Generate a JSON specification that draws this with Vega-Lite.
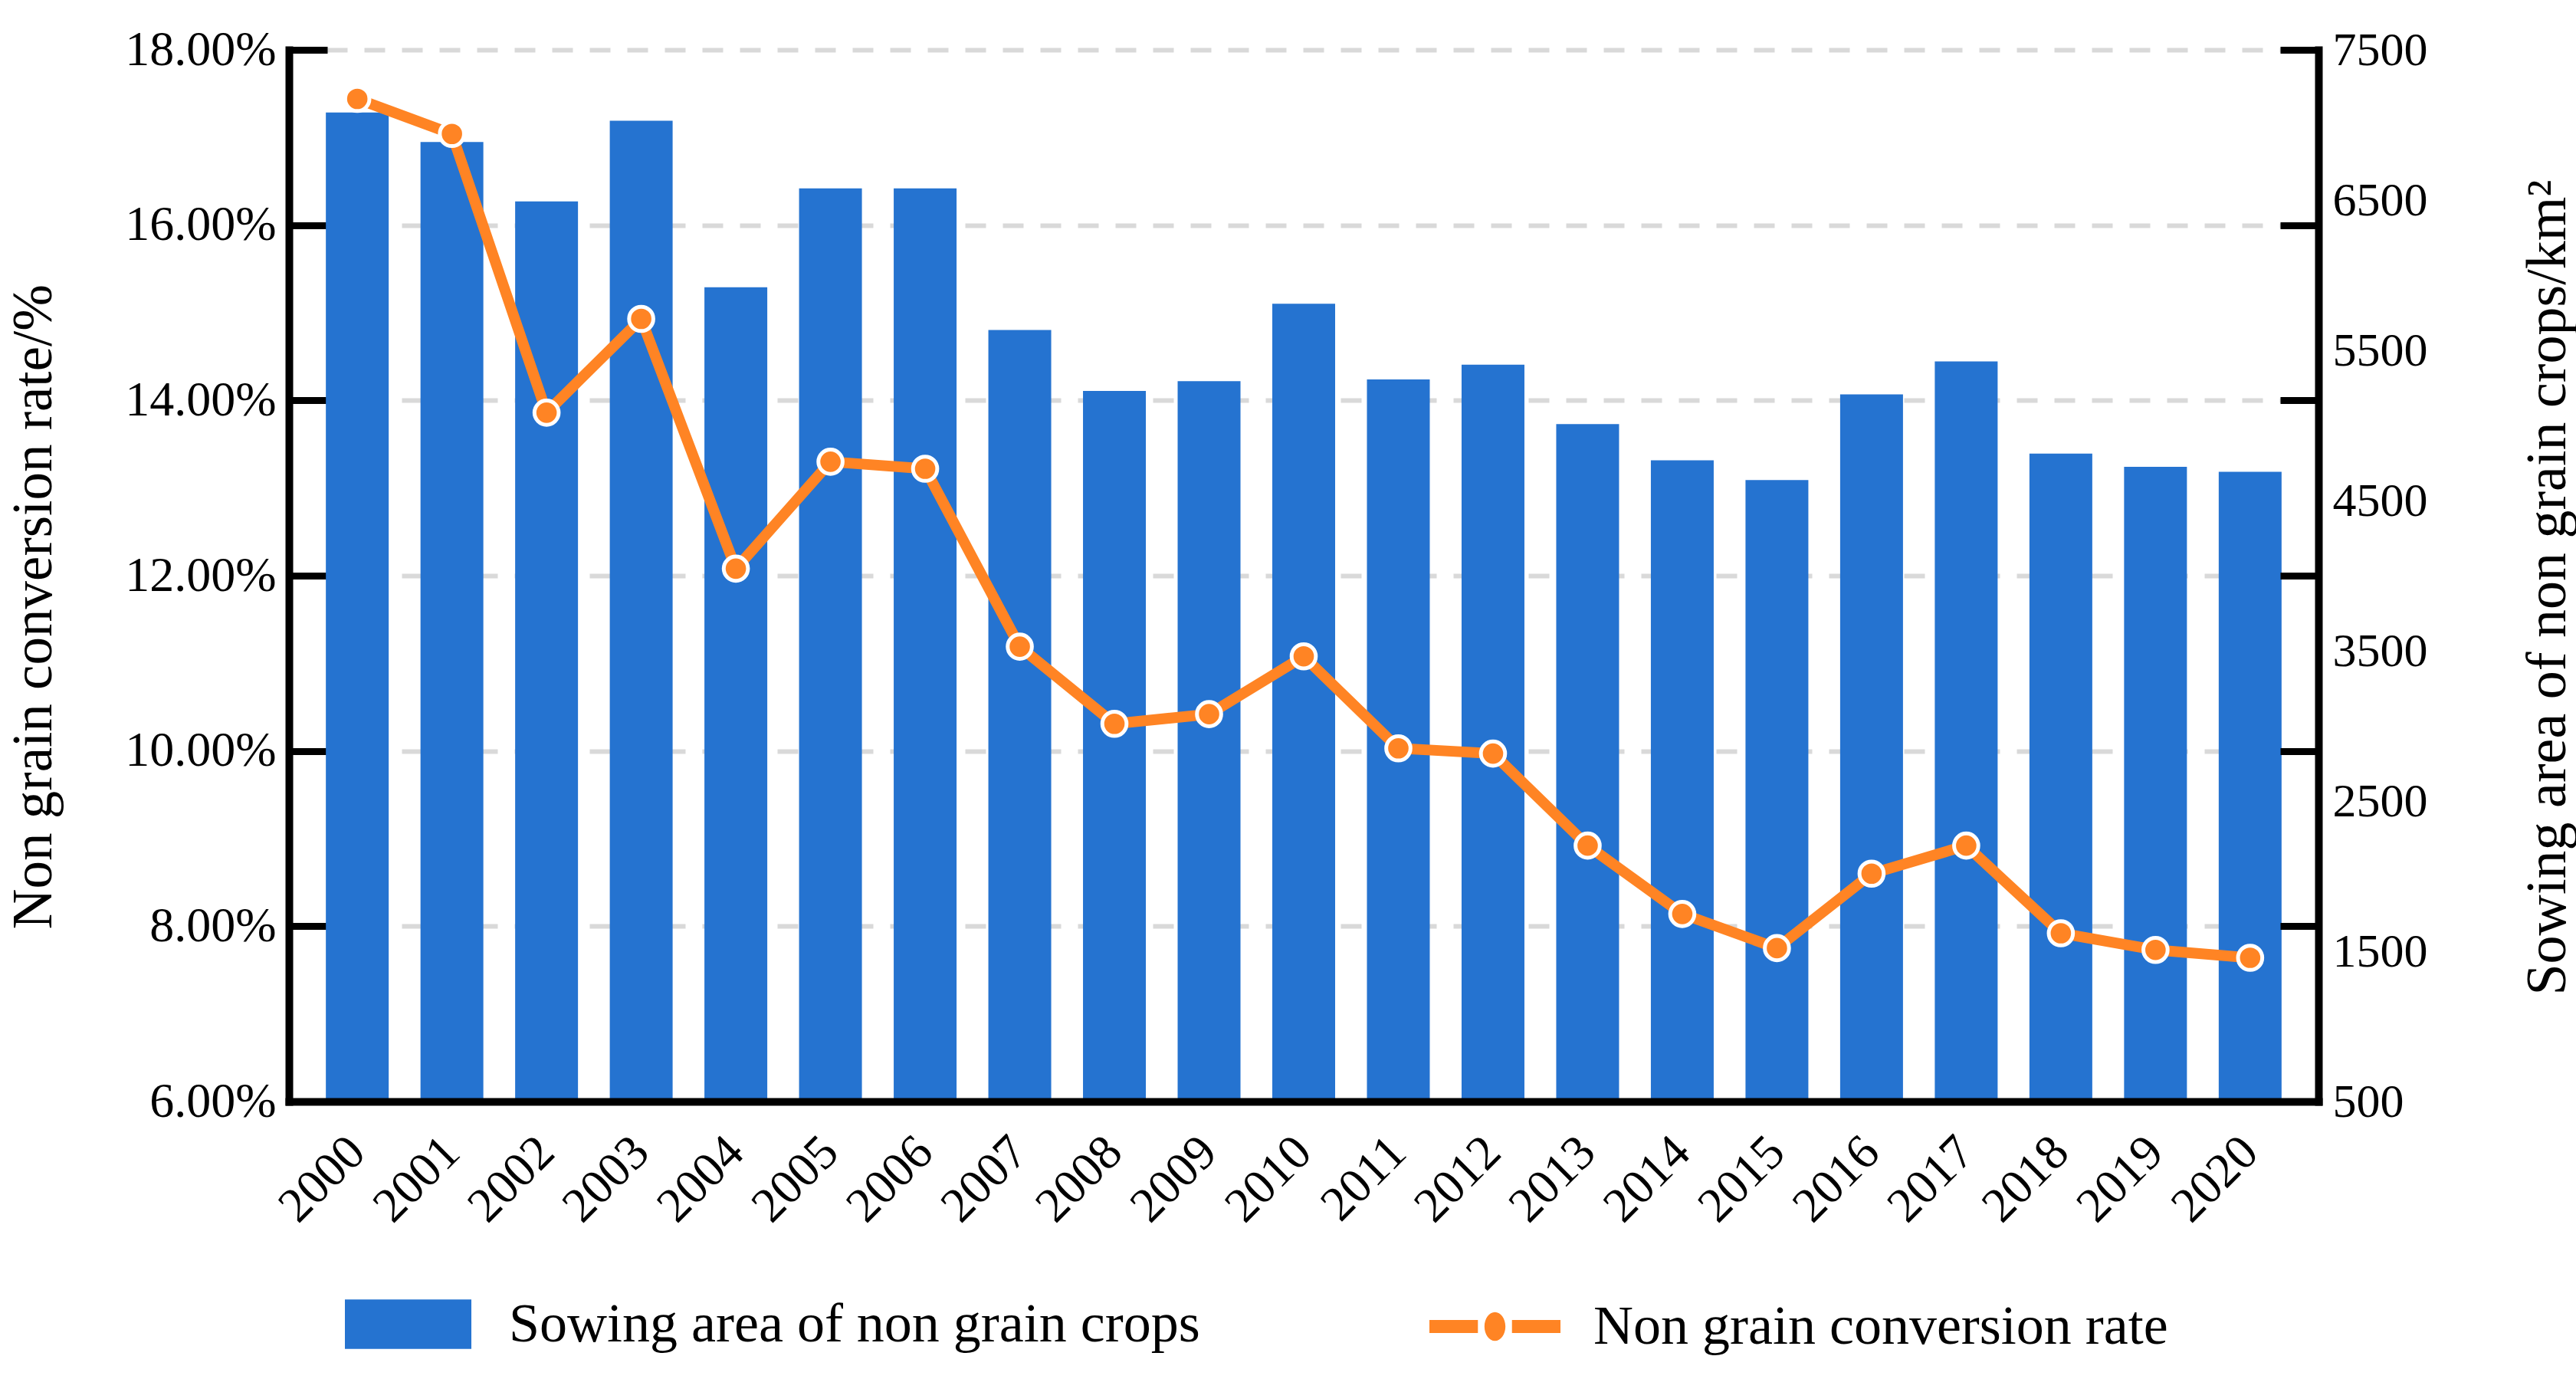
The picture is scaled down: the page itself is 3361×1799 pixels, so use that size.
{
  "$schema": "https://vega.github.io/schema/vega-lite/v6.json",
  "width": 2648,
  "height": 1372,
  "autosize": {"type": "none"},
  "padding": {"left": 377, "top": 65, "right": 336, "bottom": 362},
  "background": "white",
  "config": {
    "view": {"stroke": null},
    "font": "Liberation Serif",
    "axis": {"labelFont": "Liberation Serif", "titleFont": "Liberation Serif", "labelColor": "black", "titleColor": "black", "titleFontWeight": "normal", "domainColor": "black", "labelLimit": 0},
    "legend": {"labelFont": "Liberation Serif", "labelColor": "black", "labelLimit": 0}
  },
  "data": {
    "values": [
      {"year": "2000", "area": 7083, "rate": 17.44},
      {"year": "2001", "area": 6886, "rate": 17.04},
      {"year": "2002", "area": 6491, "rate": 13.86},
      {"year": "2003", "area": 7028, "rate": 14.93},
      {"year": "2004", "area": 5920, "rate": 12.08},
      {"year": "2005", "area": 6578, "rate": 13.30},
      {"year": "2006", "area": 6578, "rate": 13.22},
      {"year": "2007", "area": 5635, "rate": 11.19},
      {"year": "2008", "area": 5229, "rate": 10.31},
      {"year": "2009", "area": 5295, "rate": 10.42},
      {"year": "2010", "area": 5810, "rate": 11.08},
      {"year": "2011", "area": 5306, "rate": 10.03},
      {"year": "2012", "area": 5404, "rate": 9.97},
      {"year": "2013", "area": 5009, "rate": 8.92},
      {"year": "2014", "area": 4768, "rate": 8.14},
      {"year": "2015", "area": 4636, "rate": 7.75},
      {"year": "2016", "area": 5207, "rate": 8.60},
      {"year": "2017", "area": 5426, "rate": 8.92},
      {"year": "2018", "area": 4812, "rate": 7.92},
      {"year": "2019", "area": 4724, "rate": 7.73},
      {"year": "2020", "area": 4691, "rate": 7.64}
    ]
  },
  "encoding": {
    "x": {
      "field": "year",
      "type": "ordinal",
      "title": null,
      "scale": {"paddingInner": 0.336, "paddingOuter": 0.39},
      "axis": {"labelAngle": -45, "labelFontSize": 64, "labelPadding": 56, "ticks": false, "domainWidth": 10, "domainColor": "black", "domainCap": "square", "labelOverlap": false, "grid": false, "labelAlign": "right", "labelBaseline": "middle", "zindex": 2}
    }
  },
  "layer": [
    {
      "mark": {"type": "bar"},
      "encoding": {
        "y": {
          "field": "area",
          "type": "quantitative",
          "scale": {"domain": [500, 7500], "nice": false, "zero": false},
          "axis": {"orient": "right", "values": [500, 1500, 2500, 3500, 4500, 5500, 6500, 7500], "format": "d", "ticks": false, "grid": false, "domainWidth": 10, "domainColor": "black", "domainCap": "square", "labelFontSize": 62, "labelPadding": 18, "labelFlush": false, "title": "Sowing area of non grain crops/km²", "titleFontSize": 74, "titleAngle": -90, "titleX": 321, "titleY": 701, "titleBaseline": "alphabetic", "titleAlign": "center", "zindex": 2}
        },
        "y2": {"datum": 500},
        "fill": {
          "datum": "Sowing area of non grain crops",
          "type": "nominal",
          "scale": {"range": ["#2573D0"]},
          "legend": {"orient": "none", "legendX": 73, "legendY": 1580, "title": null, "padding": 0, "symbolType": "M-1,-0.39H1V0.39H-1Z", "symbolSize": 27225, "symbolStrokeWidth": 0, "labelFontSize": 72, "labelOffset": 49, "labelLimit": 0}
        }
      }
    },
    {
      "mark": {"type": "line", "strokeWidth": 14},
      "encoding": {
        "y": {
          "field": "rate",
          "type": "quantitative",
          "scale": {"domain": [6, 18], "nice": false, "zero": false},
          "axis": {"orient": "left", "values": [6, 8, 10, 12, 14, 16, 18], "labelExpr": "format(datum.value, '.2f') + '%'", "tickSize": -50, "tickWidth": 9, "tickColor": "black", "domainWidth": 10, "domainColor": "black", "domainCap": "square", "grid": true, "gridDash": [27, 22], "gridColor": "#D9D9D9", "gridWidth": 6, "labelFontSize": 64, "labelPadding": 67, "labelFlush": false, "labelLimit": 0, "title": "Non grain conversion rate/%", "titleFontSize": 73, "titleAngle": -90, "titleX": -311, "titleY": 726, "titleBaseline": "alphabetic", "titleAlign": "center"}
        },
        "stroke": {
          "datum": "Non grain conversion rate",
          "type": "nominal",
          "scale": {"range": ["#FF8424"]},
          "legend": {"orient": "none", "legendX": 1488, "legendY": 1580, "title": null, "padding": 0, "symbolType": "M-1,-0.1H-0.26V0.1H-1Z M0.26,-0.1H1V0.1H0.26Z M0,-0.22A0.16,0.22 0 1 1 0,0.22A0.16,0.22 0 1 1 0,-0.22Z", "symbolSize": 29241, "symbolFillColor": "#FF8424", "symbolStrokeWidth": 0, "labelFontSize": 72, "labelOffset": 43, "labelLimit": 0, "encode": {"symbols": {"update": {"fill": {"value": "#FF8424"}, "strokeWidth": {"value": 0}}}}}
        }
      }
    },
    {
      "mark": {"type": "point", "filled": true, "shape": "circle", "fill": "#FF8424", "stroke": "white", "strokeWidth": 5, "size": 1000, "opacity": 1},
      "encoding": {
        "y": {
          "field": "rate",
          "type": "quantitative",
          "scale": {"domain": [6, 18], "nice": false, "zero": false},
          "axis": {"orient": "right", "values": [6, 8, 10, 12, 14, 16, 18], "labels": false, "domain": false, "grid": false, "tickSize": -50, "tickWidth": 9, "tickColor": "black", "title": null, "zindex": 2}
        }
      }
    }
  ],
  "resolve": {"scale": {"y": "independent"}, "axis": {"y": "independent"}}
}
